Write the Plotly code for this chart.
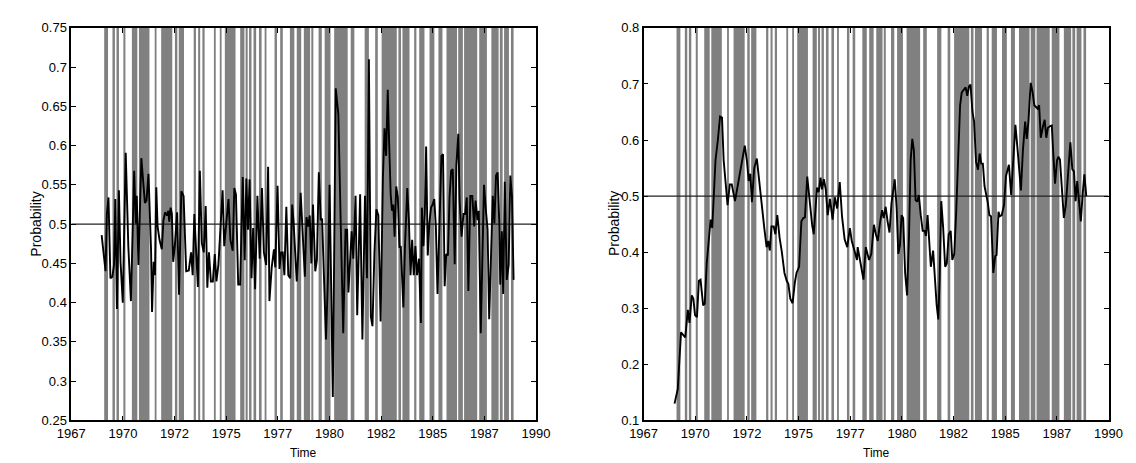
import numpy as np
import plotly.graph_objects as go

# ---------------- data ----------------
left_years = [1968.504, 1968.633, 1968.697, 1968.762, 1968.842, 1968.939, 1969.035, 1969.116, 1969.180, 1969.261,
              1969.357, 1969.438, 1969.550, 1969.695, 1969.824, 1969.953, 1970.113, 1970.194, 1970.242, 1970.323,
              1970.468, 1970.644, 1970.725, 1970.821, 1970.950, 1970.998, 1971.079, 1971.143, 1971.208, 1971.272,
              1971.368, 1971.481, 1971.562, 1971.642, 1971.738, 1971.803, 1971.851, 1971.915, 1971.980, 1972.044,
              1972.125, 1972.237, 1972.334, 1972.446, 1972.559, 1972.688, 1972.816, 1972.929, 1973.010, 1973.090,
              1973.170, 1973.267, 1973.364, 1973.460, 1973.557, 1973.653, 1973.734, 1973.814, 1973.911, 1974.007,
              1974.104, 1974.184, 1974.281, 1974.490, 1974.570, 1974.667, 1974.780, 1974.876, 1974.989, 1975.069,
              1975.150, 1975.262, 1975.359, 1975.488, 1975.584, 1975.665, 1975.745, 1975.825, 1975.922, 1976.002,
              1976.099, 1976.212, 1976.324, 1976.437, 1976.533, 1976.646, 1976.743, 1976.807, 1976.920, 1977.032,
              1977.097, 1977.209, 1977.306, 1977.386, 1977.467, 1977.547, 1977.644, 1977.740, 1977.837, 1977.933,
              1977.998, 1978.078, 1978.159, 1978.255, 1978.352, 1978.561, 1978.641, 1978.721, 1978.802, 1978.882,
              1978.963, 1979.075, 1979.156, 1979.252, 1979.349, 1979.413, 1979.494, 1979.606, 1979.703, 1979.783,
              1979.864, 1979.944, 1980.089, 1980.218, 1980.346, 1980.459, 1980.572, 1980.652, 1980.716, 1980.781,
              1980.877, 1980.958, 1981.070, 1981.151, 1981.296, 1981.408, 1981.537, 1981.634, 1981.730, 1981.827,
              1981.907, 1982.004, 1982.100, 1982.197, 1982.309, 1982.422, 1982.502, 1982.583, 1982.663, 1982.728,
              1982.808, 1982.872, 1982.937, 1983.001, 1983.082, 1983.162, 1983.243, 1983.307, 1983.371, 1983.436,
              1983.516, 1983.629, 1983.709, 1983.790, 1983.870, 1983.951, 1984.031, 1984.111, 1984.208, 1984.304,
              1984.352, 1984.433, 1984.497, 1984.562, 1984.642, 1984.722, 1984.803, 1984.883, 1984.964, 1985.044,
              1985.125, 1985.237, 1985.318, 1985.398, 1985.479, 1985.559, 1985.640, 1985.720, 1985.800, 1985.881,
              1985.977, 1986.058, 1986.154, 1986.219, 1986.315, 1986.412, 1986.492, 1986.573, 1986.653, 1986.750,
              1986.846, 1986.943, 1987.007, 1987.104, 1987.168, 1987.265, 1987.426, 1987.522, 1987.603, 1987.683,
              1987.780, 1987.860, 1987.940, 1988.021, 1988.101, 1988.182, 1988.230, 1988.310, 1988.375, 1988.455,
              1988.552, 1988.648, 1988.729, 1988.809, 1988.890]
left_prob = [0.486, 0.452, 0.440, 0.513, 0.534, 0.431, 0.433, 0.448, 0.532, 0.392,
             0.543, 0.452, 0.400, 0.591, 0.472, 0.402, 0.568, 0.501, 0.536, 0.448,
             0.584, 0.527, 0.530, 0.564, 0.466, 0.388, 0.452, 0.435, 0.547, 0.497,
             0.480, 0.468, 0.505, 0.515, 0.511, 0.517, 0.503, 0.521, 0.513, 0.452,
             0.472, 0.515, 0.410, 0.542, 0.536, 0.440, 0.441, 0.464, 0.435, 0.513,
             0.464, 0.420, 0.568, 0.476, 0.464, 0.523, 0.419, 0.464, 0.427, 0.427,
             0.462, 0.427, 0.448, 0.543, 0.472, 0.497, 0.532, 0.480, 0.466, 0.546,
             0.538, 0.423, 0.423, 0.560, 0.454, 0.558, 0.493, 0.557, 0.431, 0.495,
             0.417, 0.536, 0.456, 0.546, 0.464, 0.448, 0.573, 0.402, 0.445, 0.468,
             0.445, 0.549, 0.443, 0.464, 0.464, 0.435, 0.522, 0.435, 0.431, 0.525,
             0.505, 0.466, 0.427, 0.472, 0.540, 0.433, 0.509, 0.497, 0.511, 0.450,
             0.525, 0.440, 0.454, 0.566, 0.505, 0.507, 0.448, 0.353, 0.431, 0.550,
             0.419, 0.280, 0.673, 0.640, 0.489, 0.361, 0.493, 0.493, 0.413, 0.443,
             0.491, 0.456, 0.536, 0.384, 0.538, 0.353, 0.536, 0.431, 0.710, 0.382,
             0.370, 0.464, 0.519, 0.511, 0.376, 0.558, 0.622, 0.587, 0.671, 0.607,
             0.538, 0.517, 0.525, 0.484, 0.548, 0.534, 0.470, 0.472, 0.440, 0.394,
             0.472, 0.546, 0.505, 0.435, 0.480, 0.435, 0.472, 0.435, 0.456, 0.374,
             0.521, 0.472, 0.513, 0.599, 0.460, 0.501, 0.521, 0.525, 0.532, 0.497,
             0.411, 0.503, 0.587, 0.589, 0.421, 0.462, 0.460, 0.534, 0.568, 0.570,
             0.449, 0.575, 0.615, 0.530, 0.484, 0.513, 0.513, 0.534, 0.415, 0.536,
             0.536, 0.497, 0.530, 0.505, 0.517, 0.361, 0.550, 0.517, 0.493, 0.379,
             0.464, 0.536, 0.501, 0.562, 0.566, 0.501, 0.423, 0.491, 0.411, 0.554,
             0.429, 0.448, 0.562, 0.536, 0.429]

right_years = [1968.530, 1968.691, 1968.852, 1968.932, 1969.061, 1969.190, 1969.270, 1969.383, 1969.463, 1969.544,
               1969.640, 1969.737, 1969.817, 1969.946, 1970.026, 1970.123, 1970.219, 1970.316, 1970.396, 1970.477,
               1970.557, 1970.670, 1970.783, 1970.879, 1970.960, 1971.072, 1971.153, 1971.265, 1971.362, 1971.523,
               1971.635, 1971.748, 1971.877, 1972.005, 1972.118, 1972.199, 1972.279, 1972.359, 1972.472, 1972.601,
               1972.714, 1972.842, 1972.971, 1973.084, 1973.164, 1973.244, 1973.325, 1973.437, 1973.518, 1973.614,
               1973.727, 1973.840, 1973.968, 1974.081, 1974.162, 1974.258, 1974.371, 1974.483, 1974.564, 1974.693,
               1974.805, 1974.902, 1974.982, 1975.095, 1975.224, 1975.336, 1975.417, 1975.577, 1975.658, 1975.754,
               1975.819, 1975.915, 1976.012, 1976.108, 1976.221, 1976.350, 1976.462, 1976.575, 1976.704, 1976.816,
               1976.945, 1977.074, 1977.203, 1977.299, 1977.428, 1977.557, 1977.589, 1977.701, 1977.782, 1977.878,
               1977.991, 1978.072, 1978.152, 1978.265, 1978.393, 1978.490, 1978.586, 1978.683, 1978.796, 1978.876,
               1978.973, 1979.069, 1979.166, 1979.262, 1979.423, 1979.520, 1979.600, 1979.681, 1979.761, 1979.841,
               1979.938, 1980.034, 1980.131, 1980.211, 1980.292, 1980.372, 1980.453, 1980.533, 1980.614, 1980.710,
               1980.807, 1980.903, 1980.968, 1981.048, 1981.129, 1981.209, 1981.322, 1981.418, 1981.499, 1981.579,
               1981.643, 1981.724, 1981.820, 1981.917, 1981.997, 1982.094, 1982.191, 1982.271, 1982.368, 1982.464,
               1982.577, 1982.657, 1982.738, 1982.834, 1982.931, 1983.011, 1983.092, 1983.172, 1983.269, 1983.349,
               1983.446, 1983.542, 1983.623, 1983.703, 1983.783, 1983.864, 1983.960, 1984.025, 1984.105, 1984.186,
               1984.250, 1984.298, 1984.395, 1984.459, 1984.556, 1984.620, 1984.717, 1984.829, 1984.926, 1985.071,
               1985.183, 1985.280, 1985.392, 1985.505, 1985.666, 1985.763, 1985.875, 1985.956, 1986.036, 1986.149,
               1986.245, 1986.326, 1986.406, 1986.487, 1986.567, 1986.647, 1986.760, 1986.841, 1986.921, 1987.001,
               1987.114, 1987.195, 1987.275, 1987.355, 1987.452, 1987.516, 1987.597, 1987.693, 1987.790, 1987.886,
               1987.999, 1988.112, 1988.208, 1988.289, 1988.369, 1988.450, 1988.530, 1988.627, 1988.723, 1988.804,
               1988.900]
right_prob = [0.130, 0.156, 0.257, 0.254, 0.248, 0.297, 0.274, 0.323, 0.317, 0.288,
              0.284, 0.349, 0.351, 0.305, 0.308, 0.380, 0.420, 0.458, 0.443, 0.501,
              0.564, 0.599, 0.642, 0.640, 0.564, 0.518, 0.484, 0.521, 0.521, 0.491,
              0.512, 0.538, 0.564, 0.590, 0.561, 0.527, 0.540, 0.489, 0.550, 0.567,
              0.527, 0.478, 0.443, 0.409, 0.420, 0.403, 0.446, 0.446, 0.432, 0.466,
              0.426, 0.400, 0.363, 0.349, 0.343, 0.317, 0.309, 0.346, 0.363, 0.374,
              0.455, 0.461, 0.462, 0.535, 0.484, 0.449, 0.432, 0.515, 0.507, 0.533,
              0.512, 0.530, 0.512, 0.466, 0.495, 0.458, 0.498, 0.478, 0.525, 0.464,
              0.423, 0.409, 0.443, 0.420, 0.403, 0.386, 0.409, 0.386, 0.363, 0.351,
              0.409, 0.397, 0.386, 0.397, 0.449, 0.432, 0.420, 0.449, 0.475, 0.461,
              0.481, 0.455, 0.435, 0.487, 0.530, 0.478, 0.397, 0.412, 0.466, 0.461,
              0.363, 0.323, 0.432, 0.564, 0.602, 0.581, 0.493, 0.490, 0.502, 0.466,
              0.438, 0.438, 0.429, 0.466, 0.420, 0.374, 0.403, 0.346, 0.305, 0.280,
              0.351, 0.491, 0.443, 0.374, 0.380, 0.432, 0.438, 0.386, 0.397, 0.472,
              0.581, 0.662, 0.685, 0.690, 0.694, 0.679, 0.695, 0.699, 0.650, 0.633,
              0.561, 0.547, 0.576, 0.558, 0.558, 0.518, 0.500, 0.489, 0.466, 0.464,
              0.409, 0.363, 0.393, 0.395, 0.472, 0.464, 0.466, 0.484, 0.536, 0.556,
              0.502, 0.570, 0.627, 0.581, 0.510, 0.581, 0.633, 0.602, 0.633, 0.702,
              0.685, 0.662, 0.659, 0.656, 0.662, 0.604, 0.625, 0.636, 0.604, 0.622,
              0.625, 0.626, 0.570, 0.522, 0.564, 0.570, 0.565, 0.505, 0.461, 0.484,
              0.536, 0.596, 0.548, 0.544, 0.491, 0.527, 0.495, 0.455, 0.505, 0.539,
              0.500]

# shaded periods (start, end) in decimal years
shade_start = [1968.63, 1969.04, 1969.24, 1969.58, 1970.00, 1970.35, 1971.13, 1971.45, 1972.13, 1972.32,
               1973.06, 1973.28, 1973.49, 1974.06, 1974.35, 1974.60, 1975.36, 1975.63, 1975.80, 1976.02,
               1976.29, 1976.57, 1977.06, 1977.34, 1977.82, 1978.16, 1978.51, 1978.88, 1979.24, 1979.54,
               1980.01, 1980.83, 1981.52, 1982.04, 1982.36, 1983.19, 1983.39, 1983.97, 1984.22, 1984.73,
               1985.17, 1985.57, 1986.15, 1986.44, 1987.19, 1987.79, 1988.21, 1988.42, 1988.76]
shade_end = [1968.82, 1969.16, 1969.36, 1969.68, 1970.27, 1970.87, 1971.22, 1972.00, 1972.25, 1972.58,
             1973.17, 1973.38, 1973.60, 1974.15, 1974.44, 1975.13, 1975.57, 1975.73, 1975.92, 1976.15,
             1976.42, 1976.66, 1977.18, 1977.47, 1978.04, 1978.38, 1978.82, 1978.98, 1979.40, 1979.83,
             1980.68, 1981.01, 1981.73, 1982.17, 1983.11, 1983.32, 1983.74, 1984.08, 1984.48, 1984.97,
             1985.37, 1986.09, 1986.38, 1987.09, 1987.57, 1988.15, 1988.35, 1988.66, 1988.89]

x_range = [1967, 1990]
x_tick_labels = ["1967", "1970", "1972", "1975", "1977", "1980", "1982", "1985", "1987", "1990"]
left_range = [0.25, 0.75]
left_ticks = [0.25, 0.3, 0.35, 0.4, 0.45, 0.5, 0.55, 0.6, 0.65, 0.7, 0.75]
left_tick_labels = ["0.25", "0.3", "0.35", "0.4", "0.45", "0.5", "0.55", "0.6", "0.65", "0.7", "0.75"]
right_range = [0.1, 0.8]
right_ticks = [0.1, 0.2, 0.3, 0.4, 0.5, 0.6, 0.7, 0.8]
right_tick_labels = ["0.1", "0.2", "0.3", "0.4", "0.5", "0.6", "0.7", "0.8"]
reference_level = 0.5

# ---------------- figure ----------------
W, H = 1136, 463
FONT = "Liberation Sans, Arial, Helvetica, sans-serif"
GRAY = "#808080"

x_tickvals = list(np.linspace(x_range[0], x_range[1], len(x_tick_labels)))

fig = go.Figure()

for (xs, ys, xa, ya) in [(left_years, left_prob, "x", "y"), (right_years, right_prob, "x2", "y2")]:
    fig.add_trace(go.Scatter(x=x_range, y=[reference_level, reference_level], mode="lines",
                             line=dict(color="#222222", width=1.2), xaxis=xa, yaxis=ya,
                             showlegend=False, hoverinfo="skip"))
    fig.add_trace(go.Scatter(x=xs, y=ys, mode="lines",
                             line=dict(color="black", width=1.9), xaxis=xa, yaxis=ya,
                             showlegend=False))

shapes = []
for xref, yref in [("x", "y domain"), ("x2", "y2 domain")]:
    for s, e in zip(shade_start, shade_end):
        shapes.append(dict(type="rect", xref=xref, yref=yref, x0=s, x1=e, y0=0, y1=1,
                           fillcolor=GRAY, line=dict(width=0), layer="below"))

top = 1 - 13.3 / H
bot = 1 - 419 / H

axis_common = dict(showline=True, linecolor="black", linewidth=1.5, mirror="ticks",
                   ticks="inside", ticklen=5, tickcolor="black", tickwidth=1,
                   showgrid=False, zeroline=False,
                   tickfont=dict(family=FONT, size=13, color="black"))

fig.update_layout(
    width=W, height=H,
    margin=dict(l=0, r=0, t=0, b=0),
    paper_bgcolor="white", plot_bgcolor="white",
    shapes=shapes,
    xaxis=dict(domain=[50.5 / W, 527 / W], range=x_range, tickvals=x_tickvals,
               ticktext=x_tick_labels, anchor="y", **axis_common),
    yaxis=dict(domain=[bot, top], range=left_range, tickvals=left_ticks,
               ticktext=left_tick_labels, anchor="x", **axis_common),
    xaxis2=dict(domain=[637.3 / W, 1114 / W], range=x_range, tickvals=x_tickvals,
                ticktext=x_tick_labels, anchor="y2", **axis_common),
    yaxis2=dict(domain=[bot, top], range=right_range, tickvals=right_ticks,
                ticktext=right_tick_labels, anchor="x2", **axis_common),
    annotations=[
        dict(text="Time", x=(50.5 + 527) / 2 / W, y=1 - 453 / H, xref="paper", yref="paper",
             showarrow=False, xanchor="center", yanchor="middle",
             font=dict(family=FONT, size=12, color="black")),
        dict(text="Time", x=(637.3 + 1114) / 2 / W, y=1 - 453 / H, xref="paper", yref="paper",
             showarrow=False, xanchor="center", yanchor="middle",
             font=dict(family=FONT, size=12, color="black")),
        dict(text="Probability", x=14 / W, y=1 - 216 / H, xref="paper", yref="paper",
             showarrow=False, xanchor="center", yanchor="middle", textangle=-90,
             font=dict(family=FONT, size=14, color="black")),
        dict(text="Probability", x=607 / W, y=1 - 216 / H, xref="paper", yref="paper",
             showarrow=False, xanchor="center", yanchor="middle", textangle=-90,
             font=dict(family=FONT, size=14, color="black")),
    ],
)

fig.write_html("out.html", config={"displayModeBar": False})
